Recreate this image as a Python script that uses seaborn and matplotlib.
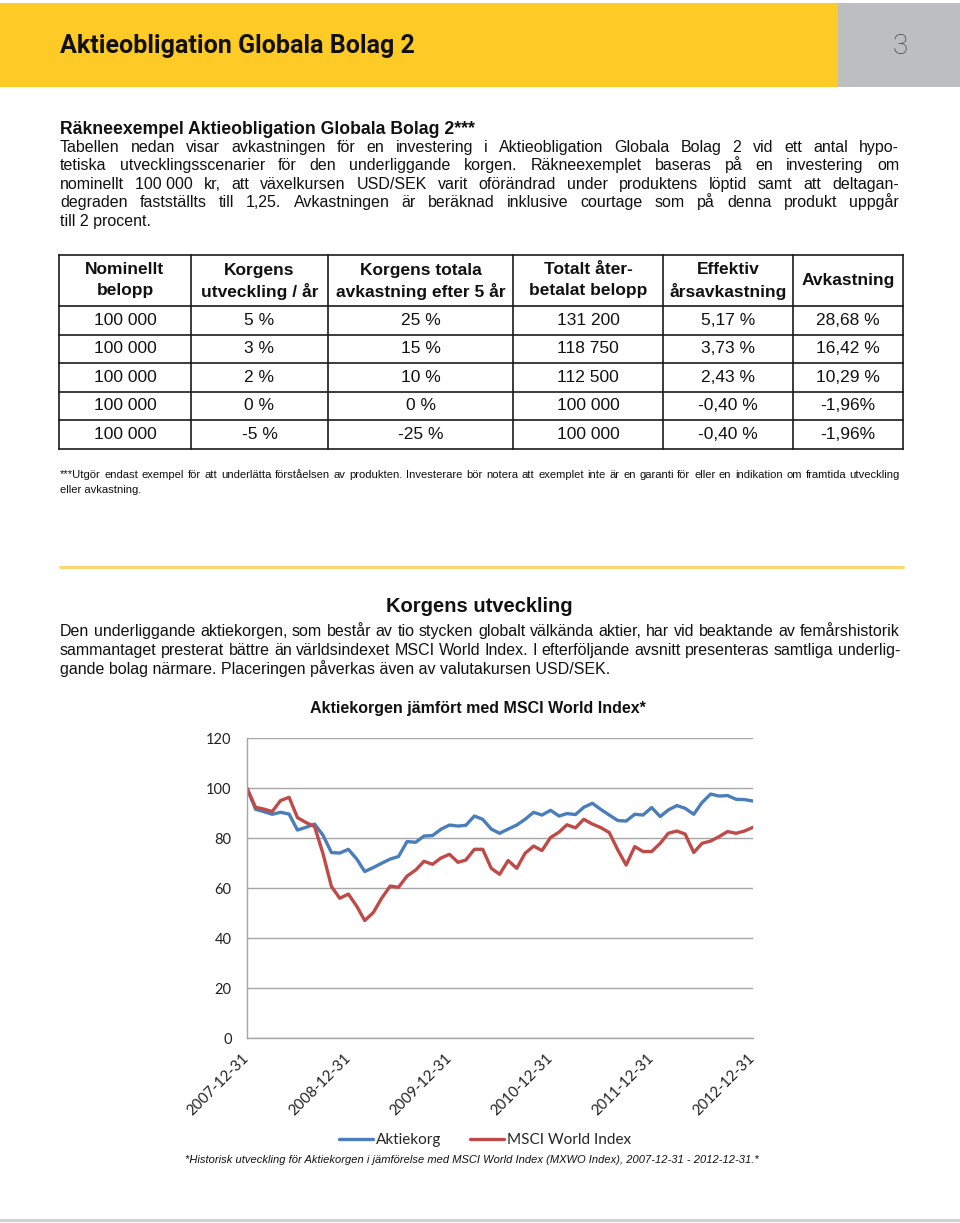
import numpy as np
import pandas as pd
import matplotlib
matplotlib.use("Agg")
import matplotlib.pyplot as plt
import seaborn as sns
from matplotlib import font_manager
from matplotlib.lines import Line2D
from matplotlib.patches import Rectangle

# ---------------- data ----------------
dates = pd.date_range("2007-12-31", "2012-12-31", freq="ME")
aktiekorg = [100, 91.6, 90.7, 89.6, 90.4, 89.7, 83.3, 84.4, 85.7, 81.3, 74.3, 74.1, 75.6, 71.6, 66.7,
             68.3, 70.0, 71.7, 72.7, 78.7, 78.4, 80.9, 81.1, 83.6, 85.3, 84.9, 85.2, 88.9, 87.6, 83.7,
             82.0, 83.7, 85.3, 87.6, 90.4, 89.3, 91.2, 88.9, 89.9, 89.5, 92.4, 94.0, 91.6, 89.3, 87.1,
             86.9, 89.6, 89.3, 92.3, 88.7, 91.3, 93.1, 92.0, 89.6, 94.3, 97.7, 96.9, 97.1, 95.6, 95.5, 94.9]
msci = [100, 92.4, 91.7, 90.7, 95.1, 96.4, 88.3, 86.3, 84.7, 74.0, 60.7, 56.0, 57.7, 52.7, 47.1,
        50.3, 56.0, 60.9, 60.4, 64.9, 67.3, 70.8, 69.6, 72.1, 73.6, 70.4, 71.3, 75.6, 75.6, 68.0,
        65.6, 71.1, 68.0, 74.0, 76.9, 75.1, 80.3, 82.5, 85.4, 84.2, 87.6, 85.7, 84.3, 82.3, 75.3,
        69.3, 76.7, 74.7, 74.7, 78.0, 82.0, 82.9, 81.7, 74.3, 78.0, 78.9, 80.7, 82.7, 82.0, 82.9, 84.4]
series_names = ["Aktiekorg", "MSCI World Index"]
x_tick_labels = ["2007-12-31", "2008-12-31", "2009-12-31", "2010-12-31", "2011-12-31", "2012-12-31"]
y_ticks = [0, 20, 40, 60, 80, 100, 120]

table_header = [["Nominellt", "belopp"], ["Korgens", "utveckling / år"],
                ["Korgens totala", "avkastning efter 5 år"], ["Totalt åter-", "betalat belopp"],
                ["Effektiv", "årsavkastning"], ["Avkastning"]]
col_nominellt = ["100 000"] * 5
col_utveckling = ["5 %", "3 %", "2 %", "0 %", "-5 %"]
col_total = ["25 %", "15 %", "10 %", "0 %", "-25 %"]
col_aterbetalat = ["131 200", "118 750", "112 500", "100 000", "100 000"]
col_effektiv = ["5,17 %", "3,73 %", "2,43 %", "-0,40 %", "-0,40 %"]
col_avkastning = ["28,68 %", "16,42 %", "10,29 %", "-1,96%", "-1,96%"]

# ---------------- fonts ----------------
sns.set_style("white")
names = {f.name for f in font_manager.fontManager.ttflist}
BODY = "Liberation Sans"
NARROW = "Liberation Sans Narrow" if "Liberation Sans Narrow" in names else "Roboto"
CHART = "Lato" if "Lato" in names else "DejaVu Sans"
plt.rcParams["font.family"] = [BODY, "DejaVu Sans"]

fig = plt.figure(figsize=(9.6, 12.23), dpi=100)
page = fig.add_axes([0, 0, 1, 1])
page.set_xlim(0, 960)
page.set_ylim(1223, 0)
page.axis("off")
renderer = fig.canvas.get_renderer()

# header band
page.add_patch(Rectangle((0, 3), 838, 84, color="#FDCA26", lw=0))
page.add_patch(Rectangle((838, 3), 122, 84, color="#BDBEC0", lw=0))
page.text(60, 46, "Aktieobligation Globala Bolag 2", family=[NARROW, "DejaVu Sans"],
          fontweight="bold", fontsize=18, va="center", ha="left", color="#111111")
page.text(900, 46, "3", family=[NARROW, "DejaVu Sans"], fontweight="light", fontsize=20,
          va="center", ha="center", color="#444444")


def justify(line, x0, x1, y_center, fs, **kw):
    words = line.split(" ")
    yb = y_center + 0.27 * fs * 100 / 72
    ts = [page.text(0, yb, w.replace("~", "\u00a0"), va="baseline", ha="left", fontsize=fs, **kw)
          for w in words]
    widths = [t.get_window_extent(renderer).width for t in ts]
    gap = (x1 - x0 - sum(widths)) / max(len(words) - 1, 1)
    x = x0
    for t, w in zip(ts, widths):
        t.set_x(x)
        x += w + gap


def left(line, x0, y_center, fs, **kw):
    yb = y_center + 0.27 * fs * 100 / 72
    page.text(x0, yb, line, va="baseline", ha="left", fontsize=fs, **kw)


BODY_FS = 11.5
left("Räkneexempel Aktieobligation Globala Bolag 2***", 60, 129, 12.7, fontweight="bold", color="#111111")
p1 = ["Tabellen nedan visar avkastningen för en investering i Aktieobligation Globala Bolag 2 vid ett antal hypo-",
      "tetiska utvecklingsscenarier för den underliggande korgen. Räkneexemplet baseras på en investering om",
      "nominellt 100~000 kr, att växelkursen USD/SEK varit oförändrad under produktens löptid samt att deltagan-",
      "degraden fastställts till 1,25. Avkastningen är beräknad inklusive courtage som på denna produkt uppgår"]
for i, ln in enumerate(p1):
    justify(ln, 60, 899, 147.5 + i * 18.5, BODY_FS, color="#111111")
left("till 2 procent.", 60, 221.5, BODY_FS, color="#111111")

# table
cols = [59, 191, 328, 513, 663, 793, 903]
rows = [255, 306, 334.5, 363, 391.5, 420, 448.5]
for yv in rows:
    page.plot([cols[0], cols[-1]], [yv, yv], color="#1a1a1a", lw=1.2, solid_capstyle="projecting")
for xv in cols:
    page.plot([xv, xv], [rows[0], rows[-1]], color="#1a1a1a", lw=1.2, solid_capstyle="projecting")
centers = [(cols[i] + cols[i + 1]) / 2 for i in range(6)]
TFS = 12.5
for c, hdr in zip(centers, table_header):
    if len(hdr) == 2:
        page.text(c, 270, hdr[0], ha="center", va="center", fontweight="bold", fontsize=TFS, color="#111111")
        page.text(c, 291, hdr[1], ha="center", va="center", fontweight="bold", fontsize=TFS, color="#111111")
    else:
        page.text(c, 281, hdr[0], ha="center", va="center", fontweight="bold", fontsize=TFS, color="#111111")
table_cols = [col_nominellt, col_utveckling, col_total, col_aterbetalat, col_effektiv, col_avkastning]
for c, colvals in zip(centers, table_cols):
    for r, v in enumerate(colvals):
        yc = (rows[r + 1] + rows[r + 2]) / 2
        page.text(c, yc, v, ha="center", va="center", fontsize=TFS, color="#111111")

# footnote
justify("***Utgör endast exempel för att underlätta förståelsen av produkten. Investerare bör notera att exemplet inte är en garanti för eller en indikation om framtida utveckling",
        60, 900, 475, 8.1, color="#111111")
left("eller avkastning.", 60, 490, 8.1, color="#111111")

# separator
page.plot([60, 903], [567, 567], color="#F7D873", lw=2.2)

page.text(479, 606, "Korgens utveckling", ha="center", va="center", fontweight="bold",
          fontsize=14.5, color="#111111")
p2 = ["Den underliggande aktiekorgen, som består av tio stycken globalt välkända aktier, har vid beaktande av femårshistorik",
      "sammantaget presterat bättre än världsindexet MSCI World Index. I efterföljande avsnitt presenteras samtliga underlig-"]
for i, ln in enumerate(p2):
    justify(ln, 60, 900, 632 + i * 19, BODY_FS, color="#111111")
left("gande bolag närmare. Placeringen påverkas även av valutakursen USD/SEK.", 60, 670, BODY_FS, color="#111111")

# ---------------- chart ----------------
ax = fig.add_axes([247 / 960, 1 - 1038.3 / 1223, 506 / 960, 300 / 1223])
df = pd.DataFrame({
    "Datum": list(dates) * 2,
    "Värde": aktiekorg + msci,
    "Serie": [series_names[0]] * len(dates) + [series_names[1]] * len(dates),
})
palette = {series_names[0]: "#4A7EBB", series_names[1]: "#BE4B48"}
sns.lineplot(data=df, x="Datum", y="Värde", hue="Serie", palette=palette, linewidth=2.4,
             ax=ax, legend=False)
ax.set_xlim(dates[0], dates[-1])
ax.set_ylim(0, 120)
ax.set_yticks(y_ticks)
ax.set_yticklabels([str(v) for v in y_ticks], fontfamily=CHART, fontsize=10.5, color="#222222")
ax.yaxis.grid(True, color="#A6A6A6", lw=1)
ax.xaxis.grid(False)
ax.set_xticks(pd.to_datetime(x_tick_labels))
ax.set_xticklabels(x_tick_labels, rotation=45, ha="right", va="center", rotation_mode="anchor",
                   fontfamily=CHART, fontsize=10.8, color="#222222")
ax.tick_params(axis="x", length=5, width=1, color="#A6A6A6", pad=8)
ax.tick_params(axis="y", length=0, pad=11)
for s in ["top", "right"]:
    ax.spines[s].set_visible(False)
for s in ["left", "bottom"]:
    ax.spines[s].set_color("#A6A6A6")
    ax.spines[s].set_linewidth(1)
ax.set_xlabel("")
ax.set_ylabel("")
ax.set_facecolor("none")

page.text(478, 709, "Aktiekorgen jämfört med MSCI World Index*", ha="center", va="center",
          fontweight="bold", fontsize=11.5, color="#111111")

handles = [Line2D([], [], color=palette[n], lw=2.4) for n in series_names]
fig.legend(handles, series_names, loc="center", bbox_to_anchor=(485 / 960, 1 - 1140 / 1223),
           ncol=2, frameon=False, prop={"family": CHART, "size": 11}, handlelength=2.2,
           handletextpad=0.2, columnspacing=1.9)

page.text(472, 1160, "*Historisk utveckling för Aktiekorgen i jämförelse med MSCI World Index (MXWO Index), 2007-12-31 - 2012-12-31.*",
          ha="center", va="center", style="italic", fontsize=8, color="#111111")
page.plot([0, 960], [1220, 1220], color="#CFCFCF", lw=2)

fig.savefig("out.png", dpi=100)
